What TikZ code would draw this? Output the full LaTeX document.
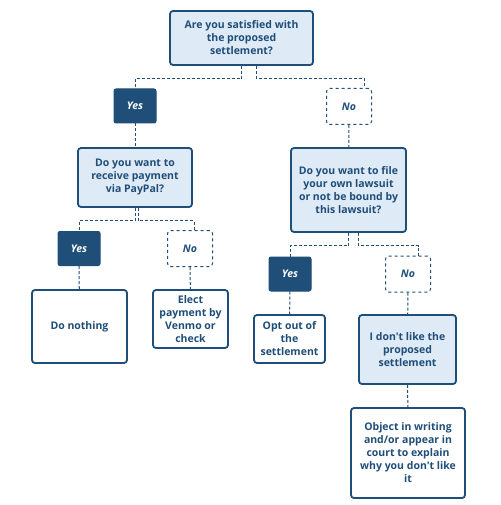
\documentclass[tikz,border=0pt]{standalone}
\usepackage{fontspec}
\setmainfont{Open Sans}[Ligatures=TeXOff]
\usetikzlibrary{calc}
\definecolor{navy}{HTML}{1F4E79}
\definecolor{paleblue}{HTML}{DEEAF6}
\tikzset{
  box/.style={draw=navy,line width=1.8pt,rounded corners=3pt,align=center,
    text=navy,inner sep=2pt,font=\bfseries\fontsize{10.5}{13}\selectfont},
  question/.style={box,fill=paleblue},
  result/.style={box,fill=white},
  yesbox/.style={draw=navy,fill=navy,line width=1pt,rounded corners=2pt,text=white,
    font=\bfseries\itshape\fontsize{10.5}{13}\selectfont,minimum width=42pt,minimum height=34pt},
  nobox/.style={draw=navy,dashed,line width=1pt,rounded corners=3pt,text=navy,
    font=\bfseries\itshape\fontsize{10.5}{13}\selectfont,minimum width=45pt,minimum height=36pt},
  link/.style={draw=navy,dashed,line width=1pt,dash pattern=on 3pt off 2pt}
}
\begin{document}
\begin{tikzpicture}[x=1pt,y=-1pt]
  \useasboundingbox[fill=white] (0,0) rectangle (500,505);
  % questions
  \node[question,minimum width=143pt,minimum height=54pt] (settle) at (241.5,38)
    {Are you satisfied with\\the proposed\\settlement?};
  \node[question,minimum width=114pt,minimum height=59pt] (paypal) at (135,177.5)
    {Do you want to\\receive payment\\via PayPal?};
  \node[question,minimum width=115pt,minimum height=84pt] (lawsuit) at (348.5,190)
    {Do you want to file\\your own lawsuit\\or not be bound by\\this lawsuit?};
  % answers
  \node[yesbox] (yesA) at (135,106) {Yes};
  \node[nobox] (noA) at (349,106.5) {No};
  \node[yesbox] (yesB) at (79,248.5) {Yes};
  \node[nobox] (noB) at (190,248.5) {No};
  \node[yesbox] (yesC) at (290,274) {Yes};
  \node[nobox] (noC) at (408,274) {No};
  % outcomes
  \node[result,minimum width=95pt,minimum height=73pt] (nothing) at (79.5,326.5) {Do nothing};
  \node[result,minimum width=75pt,minimum height=58pt] (venmo) at (190.5,319)
    {Elect\\payment by\\Venmo or\\check};
  \node[result,minimum width=71pt,minimum height=48pt] (optout) at (289.5,339)
    {Opt out of\\the\\settlement};
  \node[question,minimum width=97pt,minimum height=69pt] (dislike) at (407.5,349.5)
    {I don't like the\\proposed\\settlement};
  \node[result,minimum width=114pt,minimum height=90pt] (object) at (408,453)
    {Object in writing\\and/or appear in\\court to explain\\why you don't like\\it};
  % connectors
  \draw[link] (settle.south) -- ++(0,13) -| (yesA.north);
  \draw[link] ([xshift=15pt]settle.south) -- ++(0,13) -| ([xshift=15pt]noA.north);
  \draw[link] (yesA) -- (paypal);
  \draw[link] (noA) -- (lawsuit);
  \draw[link] (paypal.south) -- ++(0,13) -| (yesB.north);
  \draw[link] ([xshift=3pt]paypal.south) -- ++(0,13) -| ([xshift=4pt]noB.north);
  \draw[link] (yesB) -- (nothing);
  \draw[link] (noB) -- (venmo);
  \draw[link] (lawsuit.south) -- ++(0,13) -| (yesC.north);
  \draw[link] ([xshift=10pt]lawsuit.south) -- ++(0,13) -| ([xshift=10pt]noC.north);
  \draw[link] (yesC) -- (optout);
  \draw[link] (noC) -- (dislike);
  \draw[link] (dislike) -- (object);
\end{tikzpicture}
\end{document}
